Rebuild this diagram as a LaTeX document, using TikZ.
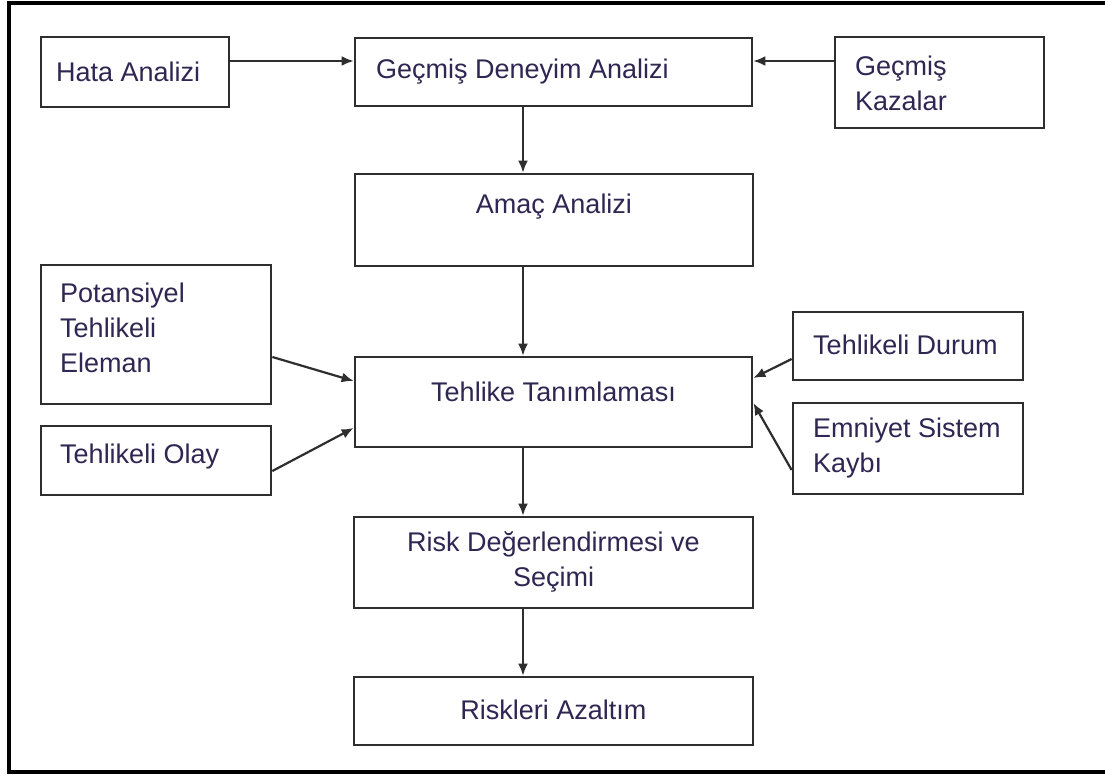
\documentclass[tikz,border=0pt]{standalone}
\usepackage{fontspec}
\setmainfont{Liberation Sans}
\usetikzlibrary{arrows.meta}
\definecolor{ink}{HTML}{2F2652}
\definecolor{edge}{HTML}{2E2E2E}
\begin{document}
\begin{tikzpicture}[x=1pt,y=-1pt,
  box/.style={draw=edge, line width=2.7pt, fill=white, inner sep=0pt},
  lbl/.style={text=ink, font=\fontsize{27}{35}\selectfont, inner sep=0pt},
  arr/.style={draw=edge, line width=2.2pt, -{Latex[length=12pt,width=10pt]}}]
  \useasboundingbox (0,0) rectangle (1105,774);
  % outer frame (open on the right)
  \draw[line width=3.5pt] (1105,3) -- (9,3) -- (9,772) -- (1105,772);

  % boxes
  \node[box, minimum width=188pt, minimum height=70pt] (hata)  at (135,72) {};
  \node[box, minimum width=397pt, minimum height=68pt] (gda)   at (553.5,72) {};
  \node[box, minimum width=209pt, minimum height=91pt] (gk)    at (939.5,82.5) {};
  \node[box, minimum width=398pt, minimum height=92pt] (amac)  at (554,220) {};
  \node[box, minimum width=230pt, minimum height=139pt] (pot)  at (156,334.5) {};
  \node[box, minimum width=397pt, minimum height=90pt] (teh)   at (553.5,402) {};
  \node[box, minimum width=230pt, minimum height=69pt] (olay)  at (156,460.5) {};
  \node[box, minimum width=230pt, minimum height=68pt] (durum) at (908,346) {};
  \node[box, minimum width=230pt, minimum height=91pt] (emn)   at (908,448.5) {};
  \node[box, minimum width=399pt, minimum height=91pt] (risk)  at (553.5,562.5) {};
  \node[box, minimum width=399pt, minimum height=68pt] (azal)  at (553.5,711) {};

  % labels
  \node[lbl, anchor=west] (hata-t) at (56,72) {Hata Analizi};
  \node[lbl, anchor=west] (gda-t) at (376,72) {Geçmiş Deneyim Analizi};
  \node[lbl, anchor=west, align=left] (gk-t) at (855,83) {Geçmiş\\Kazalar};
  \node[lbl] (amac-t) at (554,207) {Amaç Analizi};
  \node[lbl, anchor=west, align=left] (pot-t) at (60,328) {Potansiyel\\Tehlikeli\\Eleman};
  \node[lbl] (teh-t) at (553.5,392) {Tehlike Tanımlaması};
  \node[lbl, anchor=west] (olay-t) at (60,457) {Tehlikeli Olay};
  \node[lbl, anchor=west] (durum-t) at (813,345) {Tehlikeli Durum};
  \node[lbl, anchor=west, align=left] (emn-t) at (813,448) {Emniyet Sistem\\Kaybı};
  \node[lbl, align=center] (risk-t) at (553.5,562) {Risk Değerlendirmesi ve\\Seçimi};
  \node[lbl] (azal-t) at (553.5,710) {Riskleri Azaltım};

  % vertical spine of the main flow
  \coordinate (spine) at (523,0);

  % connectors
  \draw[arr] ([yshift=11pt]hata.east) -- ([yshift=11pt]gda.west);
  \draw[arr] ([yshift=21.5pt]gk.west) -- ([yshift=11pt]gda.east);
  \draw[arr] (spine |- gda.south) -- (spine |- amac.north);
  \draw[arr] (spine |- amac.south) -- (spine |- teh.north);
  \draw[arr] ([yshift=-22.5pt]pot.east) -- ([yshift=21pt]teh.west);
  \draw[arr] ([yshift=-10.5pt]olay.east) -- ([yshift=-26pt]teh.west);
  \draw[arr] ([yshift=-13pt]durum.west) -- ([yshift=24pt]teh.east);
  \draw[arr] ([yshift=-21.5pt]emn.west) -- ([yshift=-1pt]teh.east);
  \draw[arr] (spine |- teh.south) -- (spine |- risk.north);
  \draw[arr] (spine |- risk.south) -- (spine |- azal.north);
\end{tikzpicture}
\end{document}
